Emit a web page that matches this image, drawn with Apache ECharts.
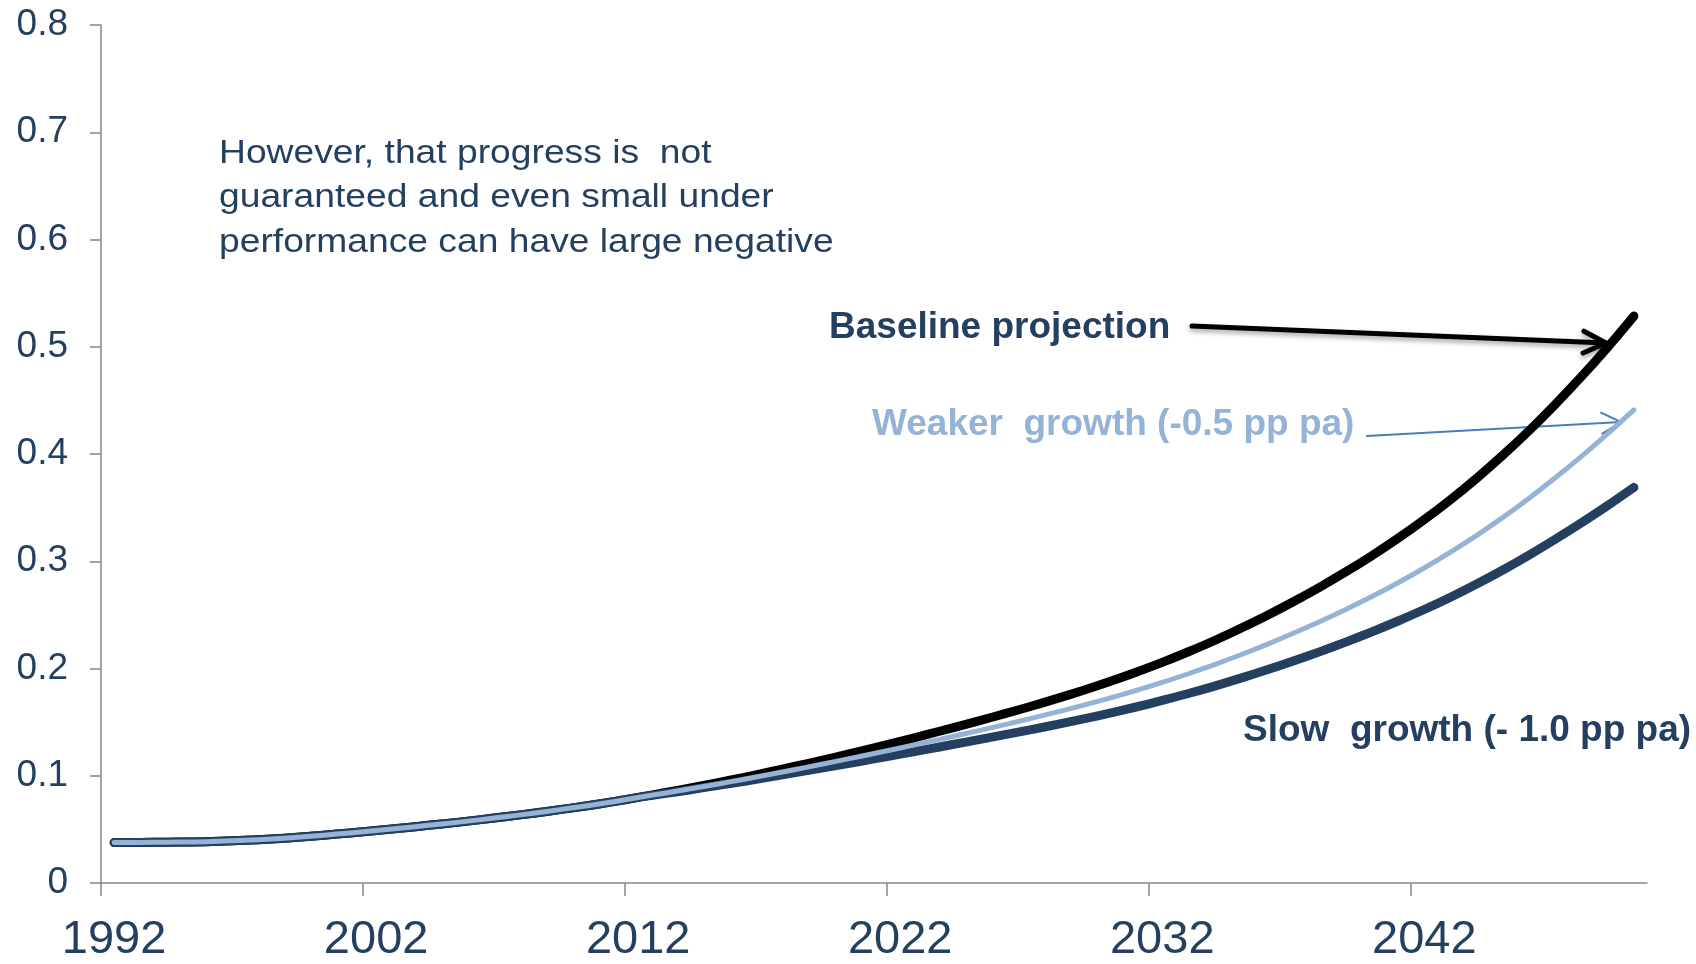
<!DOCTYPE html>
<html>
<head>
<meta charset="utf-8">
<title>Projection scenarios</title>
<script src="https://cdn.jsdelivr.net/npm/echarts@6/dist/echarts.min.js"></script>
<style>
  html, body { margin: 0; padding: 0; background: #ffffff; }
  #chart { width: 1696px; height: 964px; }
</style>
</head>
<body>
<div id="chart"></div>
<script>
// Years, one per data point
const years = [
  1992, 1993, 1994, 1995, 1996, 1997, 1998, 1999, 2000, 2001,
  2002, 2003, 2004, 2005, 2006, 2007, 2008, 2009, 2010, 2011,
  2012, 2013, 2014, 2015, 2016, 2017, 2018, 2019, 2020, 2021,
  2022, 2023, 2024, 2025, 2026, 2027, 2028, 2029, 2030, 2031,
  2032, 2033, 2034, 2035, 2036, 2037, 2038, 2039, 2040, 2041,
  2042, 2043, 2044, 2045, 2046, 2047, 2048, 2049, 2050
];

// Baseline projection
const baseline = [
  0.0377, 0.0378, 0.0380, 0.0383, 0.0389, 0.0398, 0.0410, 0.0427, 0.0446, 0.0467,
  0.0490, 0.0513, 0.0538, 0.0563, 0.0591, 0.0620, 0.0651, 0.0684, 0.0718, 0.0756,
  0.0798, 0.0841, 0.0886, 0.0934, 0.0983, 0.1035, 0.1089, 0.1144, 0.1201, 0.1260,
  0.1321, 0.1383, 0.1447, 0.1512, 0.1579, 0.1648, 0.1721, 0.1797, 0.1878, 0.1965,
  0.2057, 0.2156, 0.2261, 0.2375, 0.2494, 0.2622, 0.2757, 0.2900, 0.3052, 0.3214,
  0.3388, 0.3574, 0.3774, 0.3989, 0.4218, 0.4463, 0.4722, 0.4996, 0.5286
];

// Weaker growth (-0.5 pp pa)
const weaker = [
  0.0377, 0.0378, 0.0380, 0.0383, 0.0389, 0.0398, 0.0410, 0.0427, 0.0446, 0.0467,
  0.0490, 0.0513, 0.0538, 0.0563, 0.0591, 0.0620, 0.0651, 0.0684, 0.0718, 0.0756,
  0.0798, 0.0837, 0.0878, 0.0921, 0.0965, 0.1011, 0.1058, 0.1107, 0.1157, 0.1207,
  0.1259, 0.1312, 0.1366, 0.1421, 0.1477, 0.1535, 0.1595, 0.1658, 0.1724, 0.1795,
  0.1870, 0.1951, 0.2037, 0.2128, 0.2225, 0.2328, 0.2436, 0.2550, 0.2671, 0.2800,
  0.2937, 0.3084, 0.3241, 0.3409, 0.3588, 0.3778, 0.3978, 0.4189, 0.4411
];

// Slow growth (-1.0 pp pa)
const slow = [
  0.0377, 0.0378, 0.0380, 0.0383, 0.0389, 0.0398, 0.0410, 0.0427, 0.0446, 0.0467,
  0.0490, 0.0513, 0.0538, 0.0563, 0.0591, 0.0620, 0.0651, 0.0684, 0.0718, 0.0756,
  0.0798, 0.0833, 0.0870, 0.0908, 0.0947, 0.0987, 0.1029, 0.1071, 0.1114, 0.1157,
  0.1202, 0.1246, 0.1291, 0.1337, 0.1383, 0.1430, 0.1479, 0.1530, 0.1584, 0.1641,
  0.1702, 0.1767, 0.1836, 0.1910, 0.1988, 0.2069, 0.2155, 0.2246, 0.2342, 0.2443,
  0.2550, 0.2665, 0.2788, 0.2919, 0.3058, 0.3205, 0.3359, 0.3520, 0.3689
];

// Labelled years and the tick positions between yearly bands
const labelYears = [1992, 2002, 2012, 2022, 2032, 2042];
const tickYears = [1991.5, 2001.5, 2011.5, 2021.5, 2031.5, 2041.5];

// Note lines and series labels
const noteLines = [
  'However, that progress is  not',
  'guaranteed and even small under',
  'performance can have large negative'
];
const labelBaseline = 'Baseline projection';
const labelWeaker = 'Weaker  growth (-0.5 pp pa)';
const labelSlow = 'Slow  growth (- 1.0 pp pa)';

const NAVY = '#243F60';
const LIGHT = '#95B3D7';
const ARROW_BLUE = '#4A7EBB';
const AXIS_GREY = '#868686';
const FONT = '"Liberation Sans", Arial, Helvetica, sans-serif';

const chart = echarts.init(document.getElementById('chart'), null, { renderer: 'canvas' });

function pairs(values) {
  return years.map(function (y, i) { return [y, values[i]]; });
}

function lineSeries(name, values, color, width) {
  return {
    name: name,
    type: 'line',
    data: pairs(values),
    smooth: 0.3,
    showSymbol: false,
    symbol: 'none',
    lineStyle: { color: color, width: width, cap: 'round', join: 'round' },
    emphasis: { disabled: true },
    z: 2
  };
}

// Open chevron arrow: shaft plus two head strokes
function arrowGroup(x1, y1, x2, y2, color, width, head, spread, shadow) {
  const ang = Math.atan2(y2 - y1, x2 - x1);
  const hx1 = x2 + head * Math.cos(ang + Math.PI - spread);
  const hy1 = y2 + head * Math.sin(ang + Math.PI - spread);
  const hx2 = x2 + head * Math.cos(ang + Math.PI + spread);
  const hy2 = y2 + head * Math.sin(ang + Math.PI + spread);
  const style = { stroke: color, lineWidth: width, lineCap: 'round', lineJoin: 'miter', fill: null };
  if (shadow) {
    style.shadowColor = 'rgba(0,0,0,0.35)';
    style.shadowBlur = 5;
    style.shadowOffsetY = 3;
  }
  return {
    type: 'group',
    silent: true,
    z: 10,
    children: [
      { type: 'polyline', shape: { points: [[x1, y1], [x2, y2]] }, style: Object.assign({}, style) },
      { type: 'polyline', shape: { points: [[hx1, hy1], [x2, y2], [hx2, hy2]] }, style: Object.assign({}, style) }
    ]
  };
}

const option = {
  animation: false,
  backgroundColor: '#ffffff',
  grid: { left: 101, right: 49, top: 25, bottom: 79, containLabel: false },
  xAxis: {
    type: 'value',
    min: 1991.5,
    max: 2050.5,
    axisLine: { show: true, onZero: false, lineStyle: { color: AXIS_GREY, width: 1.5 } },
    axisTick: {
      show: true,
      customValues: tickYears,
      length: 13,
      lineStyle: { color: AXIS_GREY, width: 1.5 }
    },
    axisLabel: {
      customValues: labelYears,
      margin: 34,
      color: NAVY,
      fontFamily: FONT,
      fontSize: 47,
      formatter: function (v) { return String(Math.round(v)); }
    },
    splitLine: { show: false }
  },
  yAxis: {
    type: 'value',
    min: 0,
    max: 0.8,
    interval: 0.1,
    axisLine: { show: true, lineStyle: { color: AXIS_GREY, width: 1.5 } },
    axisTick: { show: true, length: 11, lineStyle: { color: AXIS_GREY, width: 1.5 } },
    axisLabel: {
      margin: 33,
      color: NAVY,
      fontFamily: FONT,
      fontSize: 37,
      formatter: function (v) { return String(Math.round(v * 10) / 10); }
    },
    splitLine: { show: false }
  },
  series: [
    lineSeries('Baseline projection', baseline, '#000000', 9),
    lineSeries('Slow growth (-1.0 pp pa)', slow, NAVY, 9),
    lineSeries('Weaker growth (-0.5 pp pa)', weaker, LIGHT, 5)
  ],
  graphic: [
    {
      type: 'text', x: 219, y: 131, scaleX: 1.095, silent: true,
      style: {
        text: noteLines.join('\n'),
        fill: NAVY, font: '34px ' + FONT, lineHeight: 44.5
      }
    },
    {
      type: 'text', x: 829, y: 309, silent: true,
      style: { text: labelBaseline, fill: NAVY, font: 'bold 37px ' + FONT }
    },
    {
      type: 'text', x: 872, y: 406, silent: true,
      style: { text: labelWeaker, fill: LIGHT, font: 'bold 37px ' + FONT }
    },
    {
      type: 'text', x: 1243, y: 712, silent: true,
      style: { text: labelSlow, fill: NAVY, font: 'bold 37px ' + FONT }
    },
    arrowGroup(1192, 326, 1606, 343, '#000000', 5, 25, 0.45, true),
    arrowGroup(1367, 436, 1621, 422, ARROW_BLUE, 2, 22, 0.5, false)
  ]
};

chart.setOption(option);
</script>
</body>
</html>
